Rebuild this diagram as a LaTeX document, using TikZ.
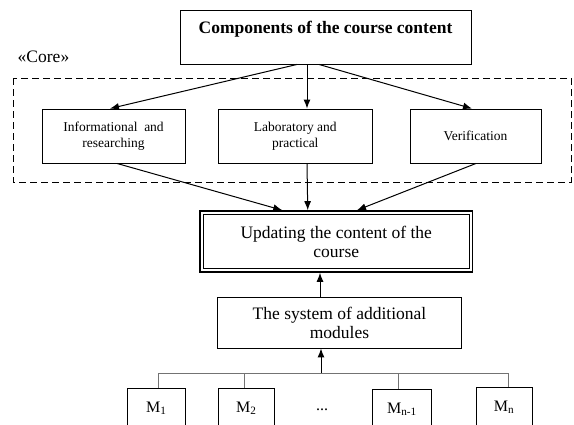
\documentclass[tikz,border=0pt]{standalone}
\usepackage{fontspec}
\setmainfont{Liberation Serif}
\usetikzlibrary{arrows.meta,calc}
\begin{document}
\begin{tikzpicture}[x=1pt,y=-1pt,
  box/.style={draw, line width=0.9pt, inner sep=0pt, align=center},
  big/.style={font=\fontsize{17.5}{19}\selectfont},
  small/.style={font=\fontsize{13.5}{16.5}\selectfont},
  mfont/.style={font=\fontsize{16}{18}\selectfont},
  arr/.style={line width=1pt, -{Latex[length=9pt,width=7pt]}},
  bus/.style={draw=black!55, line width=1pt},
  frame/.style={draw, line width=1pt, dash pattern=on 7pt off 4pt}]
\clip (0,0) rectangle (574,424);
% top
\node[box, big, minimum width=291pt, minimum height=54pt, text height=12pt, text depth=20pt] (top) at (325.5,37) {\textbf{Components of the course content}};
\node[big] (core) at (43.5,57) {«Core»};
\draw[frame] (13,78) rectangle (571,182);
% core boxes
\node[box, small, minimum width=143pt, minimum height=54pt] (info) at (113.5,136) {Informational\ \ and\\researching};
\node[box, small, minimum width=154.5pt, minimum height=54pt] (lab) at (295.25,136) {Laboratory and\\practical};
\node[box, small, minimum width=131pt, minimum height=54pt] (ver) at (475.5,136) {Verification};
% updating
\node[box, big, line width=1.6pt, minimum width=272.5pt, minimum height=61pt] (upd) at (336.25,241.5) {Updating the content of the\\course};
\draw[line width=0.8pt] ($(upd.north west)+(4,4)$) rectangle ($(upd.south east)+(-4,-4)$);
% system
\node[box, big, minimum width=244pt, minimum height=51pt] (sys) at (339.5,322.5) {The system of additional\\modules};
% modules
\node[box, mfont, minimum width=57.5pt, minimum height=40pt, anchor=north] (m1) at (156.25,388) {M\textsubscript{1}};
\node[box, mfont, minimum width=55.3pt, minimum height=40pt, anchor=north] (m2) at (246.4,388) {M\textsubscript{2}};
\node[mfont] (dots) at (322,410) {...};
\node[box, mfont, minimum width=59pt, minimum height=40pt, anchor=north] (mn1) at (402,389) {M\textsubscript{n-1}};
\node[box, mfont, minimum width=56pt, minimum height=40pt, anchor=north] (mn) at (504,387) {M\textsubscript{n}};
% bus
\coordinate (b1) at (158,373);
\coordinate (b2) at (244,373);
\coordinate (b3) at (398.5,373);
\coordinate (b4) at (508,373);
\coordinate (bm) at (321,373);
\draw[bus] (b1) -- (b4);
\draw[bus] (b1) -- (b1 |- m1.north);
\draw[bus] (b2) -- (b2 |- m2.north);
\draw[bus] (b3) -- (b3 |- mn1.north);
\draw[bus] (b4) -- (b4 |- mn.north);
\draw[arr] (bm) -- (bm |- sys.south);
% arrows
\draw[arr] ($(sys.north)+(-19.5,0)$) -- ($(upd.south)+(-16.25,0)$);
\draw[arr] ($(top.south)+(-28.5,0)$) -- ($(info.north)+(-3.5,0)$);
\draw[arr] ($(top.south)+(-18.5,0)$) -- ($(lab.north)+(11.75,0)$);
\draw[arr] ($(top.south)+(-6.5,0)$) -- ($(ver.north)+(-3.5,0)$);
\draw[arr] ($(info.south)+(3.5,0)$) -- ($(upd.north)+(-54,0)$);
\draw[arr] ($(lab.south)+(11.75,0)$) -- ($(upd.north)+(-28.5,0)$);
\draw[arr] ($(ver.south)+(0.5,0)$) -- ($(upd.north)+(20.75,0)$);
\end{tikzpicture}
\end{document}
